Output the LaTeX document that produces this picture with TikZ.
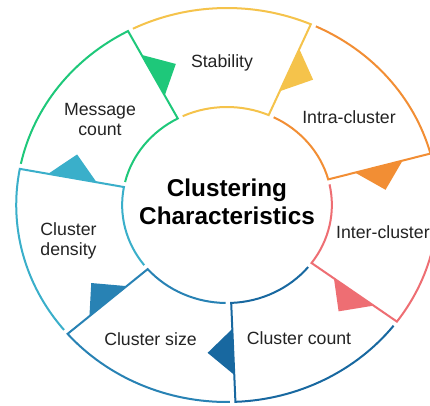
\documentclass[tikz,border=0pt]{standalone}
\usepackage{fontspec}
\setmainfont{Liberation Sans}
\definecolor{cGreen}{RGB}{30,200,122}
\definecolor{cYellow}{RGB}{245,195,75}
\definecolor{cOrange}{RGB}{242,142,52}
\definecolor{cPink}{RGB}{238,110,115}
\definecolor{cNavy}{RGB}{24,104,160}
\definecolor{cBlue}{RGB}{40,130,180}
\definecolor{cTeal}{RGB}{58,175,202}
\definecolor{cText}{RGB}{35,35,35}
\newcommand\ringseg[3]{%
  \draw[#1] ({#2-1.5}:\Ro) arc[start angle={#2-1.5}, end angle={#3}, radius=\Ro]
    -- ({#3}:\Ri) arc[start angle={#3}, end angle={#2-3}, radius=\Ri];
  \fill[#1] ({#3}:124) -- ({#3}:170)
    -- ({147*cos(#3)+24*sin(#3)}, {147*sin(#3)-24*cos(#3)}) -- cycle;
}
\tikzset{
  lbl/.style={inner sep=0pt, text=cText, font=\fontsize{17.7}{20}\selectfont, align=center},
  ttl/.style={inner sep=0pt, text=black, font=\fontsize{24.3}{28.3}\selectfont\bfseries, align=center}
}
\begin{document}
\begin{tikzpicture}[x=1pt,y=1pt]
\useasboundingbox (0,0) rectangle (430,405);
\clip (0,0) rectangle (430,405);
\fill[white] (0,0) rectangle (430,405);
\def\Ro{197}\def\Ri{98}
\begin{scope}[shift={(227,200)}, xscale=1.07, line width=2pt, line join=miter]
  \ringseg{cYellow}{118}{66.57}
  \ringseg{cOrange}{66.57}{15.14}
  \ringseg{cPink}{15.14}{-36.29}
  \ringseg{cNavy}{-36.29}{-87.71}
  \ringseg{cBlue}{-87.71}{-139.14}
  \ringseg{cTeal}{-139.14}{-190.57}
  \ringseg{cGreen}{-190.57}{-242}
\end{scope}
\node[ttl] (title) at (227,202.9) {Clustering\\Characteristics};
\node[lbl, anchor=base] (stab) at (222,337) {Stability};
\node[lbl, anchor=base] (intra) at (349,282) {Intra-cluster};
\node[lbl, anchor=base west] (inter) at (336,166.5) {Inter-cluster};
\node[lbl, anchor=base] (count) at (299,61) {Cluster count};
\node[lbl, anchor=base] (size) at (150.5,60) {Cluster size};
\node[lbl] (dens) at (68.5,164.3) {Cluster\\density};
\node[lbl] (msg) at (100,285.5) {Message\\count};
\end{tikzpicture}
\end{document}
